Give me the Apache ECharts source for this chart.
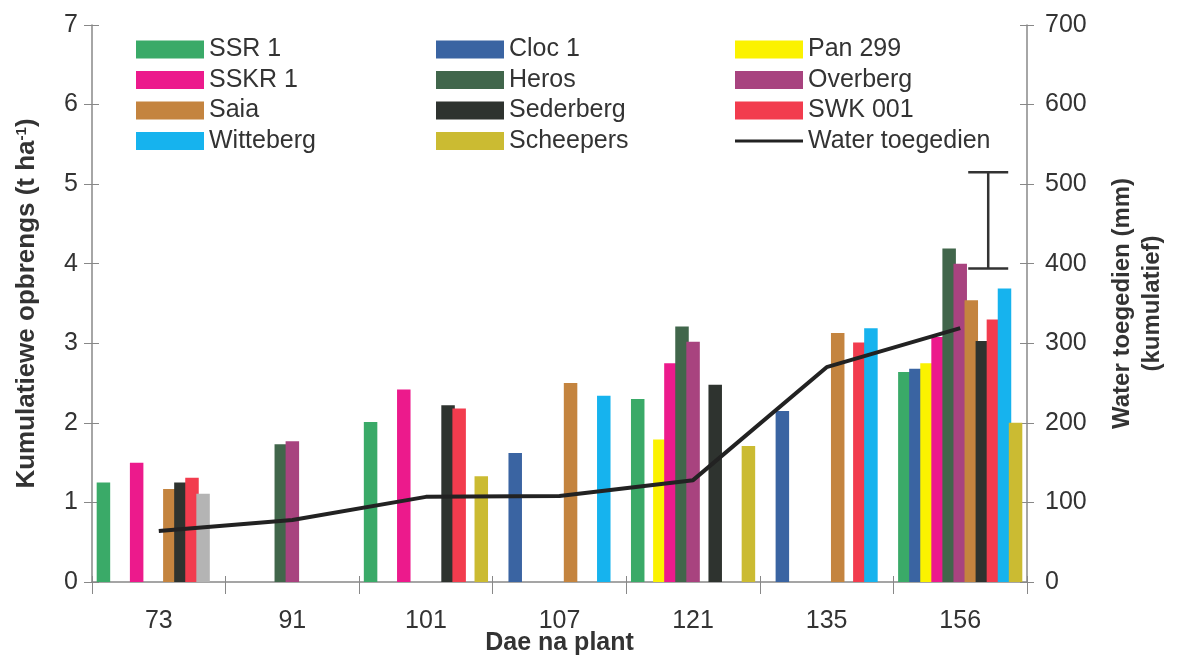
<!DOCTYPE html>
<html>
<head>
<meta charset="utf-8">
<script src="https://cdn.jsdelivr.net/npm/echarts@6/dist/echarts.min.js"></script>
<style>html,body{margin:0;padding:0;background:#fff}#c{width:1178px;height:657px}</style>
</head>
<body>
<div id="c"></div>
<script>
// ---- data ----
var categories = ['73', '91', '101', '107', '121', '135', '156'];
var seriesNames = ['SSR 1', 'Cloc 1', 'Pan 299', 'SSKR 1', 'Heros', 'Overberg', 'Saia', 'Sederberg', 'SWK 001', 'Witteberg', 'Scheepers'];
var SSR1      = [1.25, null, 2.01, null, 2.30, null, 2.64];
var Cloc1     = [null, null, null, 1.62, null, 2.15, 2.68];
var Pan299    = [null, null, null, null, 1.79, null, 2.75];
var SSKR1     = [1.50, null, 2.42, null, 2.75, null, 3.08];
var Heros     = [null, 1.73, null, null, 3.21, null, 4.19];
var Overberg  = [null, 1.77, null, null, 3.02, null, 4.00];
var Saia      = [1.17, null, null, 2.50, null, 3.13, 3.54];
var Sederberg = [1.25, null, 2.22, null, 2.48, null, 3.03];
var SWK001    = [1.31, null, 2.18, null, null, 3.01, 3.30];
var Witteberg = [1.11, null, null, 2.34, null, 3.19, 3.69];
var Scheepers = [null, null, 1.33, null, 1.71, null, 2.00];
var waterName = 'Water toegedien';
var water     = [64, 78, 107, 108, 128, 270, 319];
var errorBar  = [394, 515];   // range bar at 156 (right axis)
var leftTicks = [0, 7, 1];     // min, max, interval
var rightTicks = [0, 700, 100];

// ---- styles ----
var colors = ['#3aaa68', '#3a64a2', '#fbf200', '#ec1a8c', '#41664b', '#a8437f', '#c4843f', '#2e332f', '#f23c4e', '#16b3ee', '#cbbb32'];
var txt = '#333333';
var axisCol = '#888888';
var font = 'Liberation Sans, Arial, sans-serif';

var values = [SSR1, Cloc1, Pan299, SSKR1, Heros, Overberg, Saia, Sederberg, SWK001, Witteberg, Scheepers];
var series = values.map(function (v, i) {
  var data = v.map(function (d, j) {
    if (i === 9 && j === 0 && d != null) { return { value: d, itemStyle: { color: '#b4b4b4' } }; }
    return d;
  });
  return {
    name: seriesNames[i], type: 'bar', data: data,
    barWidth: 13.5, barGap: '-18%',
    itemStyle: { color: colors[i] }, z: 2, animation: false
  };
});
series.push({
  name: waterName, type: 'line', yAxisIndex: 1, data: water,
  symbol: 'none', lineStyle: { color: '#222222', width: 4 }, itemStyle: { color: '#222222' },
  z: 5, animation: false
});
series.push({
  type: 'custom', yAxisIndex: 1, data: [[6, errorBar[0], errorBar[1]]], z: 6, animation: false,
  renderItem: function (params, api) {
    var lo = api.coord([api.value(0), api.value(1)]);
    var hi = api.coord([api.value(0), api.value(2)]);
    var x = lo[0] + 28, w = 20;
    var st = { stroke: '#333333', lineWidth: 2.5 };
    return { type: 'group', children: [
      { type: 'line', shape: { x1: x, y1: lo[1], x2: x, y2: hi[1] }, style: st },
      { type: 'line', shape: { x1: x - w, y1: lo[1], x2: x + w, y2: lo[1] }, style: st },
      { type: 'line', shape: { x1: x - w, y1: hi[1], x2: x + w, y2: hi[1] }, style: st }
    ] };
  }
});

function legend(left, names) {
  return {
    orient: 'vertical', left: left, top: 37, itemWidth: 68, itemHeight: 18, itemGap: 5.5,
    padding: 0, icon: 'rect',
    data: names.map(function (n) {
      return n === waterName ? { name: n, icon: 'path://M0,0 L68,0 L68,3 L0,3 Z' } : n;
    }),
    selectedMode: false,
    textStyle: { fontSize: 25, color: txt, fontFamily: font }
  };
}

function innerY(pos, rng) {
  return {
    type: 'value', min: rng[0], max: rng[1], interval: rng[2], position: pos, gridIndex: 0,
    axisLine: { show: false }, axisLabel: { show: false }, splitLine: { show: false },
    axisTick: { show: true, inside: true, length: 7, lineStyle: { color: axisCol } }
  };
}

var chart = echarts.init(document.getElementById('c'), null, { renderer: 'canvas' });
chart.setOption({
  backgroundColor: '#ffffff',
  textStyle: { fontFamily: font },
  grid: { left: 92, right: 151, top: 25, bottom: 75, containLabel: false, outerBoundsMode: 'none' },
  legend: [
    legend(136, [seriesNames[0], seriesNames[3], seriesNames[6], seriesNames[9]]),
    legend(436, [seriesNames[1], seriesNames[4], seriesNames[7], seriesNames[10]]),
    legend(735, [seriesNames[2], seriesNames[5], seriesNames[8], waterName])
  ],
  xAxis: [{
    type: 'category', data: categories,
    name: 'Dae na plant', nameLocation: 'middle', nameGap: 49, nameMoveOverlap: false,
    nameTextStyle: { fontSize: 25, fontWeight: 'bold', color: txt, fontFamily: font },
    axisLine: { lineStyle: { color: axisCol, width: 1.5 } },
    axisTick: { show: true, length: 12, lineStyle: { color: axisCol } },
    axisLabel: { fontSize: 25, color: txt, margin: 27, fontFamily: font }
  }, {
    type: 'category', data: categories, position: 'bottom',
    axisLine: { show: false }, axisLabel: { show: false },
    axisTick: { show: true, inside: true, length: 6, lineStyle: { color: axisCol } }
  }],
  yAxis: [
    {
      type: 'value', min: leftTicks[0], max: leftTicks[1], interval: leftTicks[2],
      name: 'Kumulatiewe opbrengs (t ha{sup|-1})', nameLocation: 'middle', nameGap: 52, nameRotate: 90,
      nameMoveOverlap: false,
      nameTextStyle: { fontSize: 26, fontWeight: 'bold', color: txt, fontFamily: font,
        rich: { sup: { fontSize: 15, fontWeight: 'bold', color: txt, verticalAlign: 'top', lineHeight: 13, fontFamily: font } } },
      axisLine: { show: true, lineStyle: { color: axisCol, width: 1.5 } },
      axisTick: { show: true, length: 8, lineStyle: { color: axisCol } },
      axisLabel: { fontSize: 25, color: txt, margin: 14, fontFamily: font },
      splitLine: { show: false }
    },
    {
      type: 'value', min: rightTicks[0], max: rightTicks[1], interval: rightTicks[2], position: 'right',
      name: 'Water toegedien (mm)\n(kumulatief)', nameLocation: 'middle', nameGap: 80, nameRotate: 90,
      nameMoveOverlap: false,
      nameTextStyle: { fontSize: 24, fontWeight: 'bold', color: txt, lineHeight: 30, align: 'center', fontFamily: font },
      axisLine: { show: true, lineStyle: { color: axisCol, width: 1.5 } },
      axisTick: { show: true, length: 7, lineStyle: { color: axisCol } },
      axisLabel: { fontSize: 25, color: txt, margin: 18, fontFamily: font },
      splitLine: { show: false }
    },
    innerY('left', leftTicks),
    innerY('right', rightTicks)
  ],
  series: series
});
</script>
</body>
</html>
